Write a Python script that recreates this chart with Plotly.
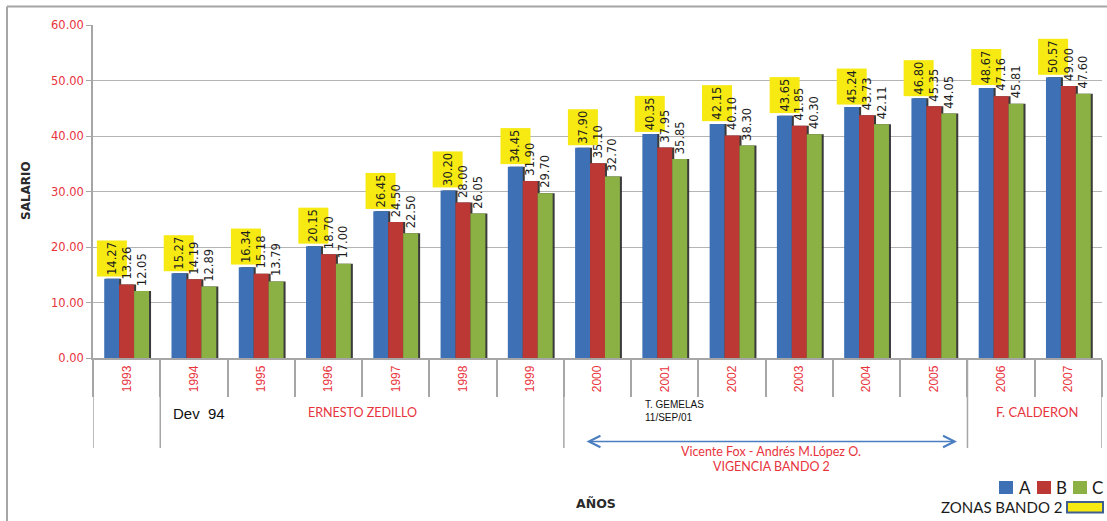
import plotly.graph_objects as go

# ---------------- data ----------------
years = ["1993", "1994", "1995", "1996", "1997", "1998", "1999", "2000",
         "2001", "2002", "2003", "2004", "2005", "2006", "2007"]
zona_a = [14.27, 15.27, 16.34, 20.15, 26.45, 30.20, 34.45, 37.90,
          40.35, 42.15, 43.65, 45.24, 46.80, 48.67, 50.57]
zona_b = [13.26, 14.19, 15.18, 18.70, 24.50, 28.00, 31.90, 35.10,
          37.95, 40.10, 41.85, 43.73, 45.35, 47.16, 49.00]
zona_c = [12.05, 12.89, 13.79, 17.00, 22.50, 26.05, 29.70, 32.70,
          35.85, 38.30, 40.30, 42.11, 44.05, 45.81, 47.60]
y_ticks = [0, 10, 20, 30, 40, 50, 60]
series_names = ["A", "B", "C"]
period_starts = ["1993", "1994", "2000", "2006"]   # long separator lines

# ---------------- layout constants ----------------
W, H = 1107, 521
L, R, T, B = 93, 5, 25, 163
PW, PH = W - L - R, H - T - B
CAT_PX = PW / len(years)

def px(x):
    return (x - L) / PW

def py(y):
    return (H - B - y) / PH

RED_TXT = "#E8333D"
BLUE = "#3D70B4"
RED = "#BC3835"
GREEN = "#8BB044"
GRID = "#B4B4B4"
AXC = "#A6A6A6"
YELLOW = "#F6EA12"

BAR_W = 0.222
offsets = [-0.333, -0.111, 0.111]
colors = [BLUE, RED, GREEN]
values = [zona_a, zona_b, zona_c]

fig = go.Figure()

# shadows
for vals, off in zip(values, offsets):
    fig.add_trace(go.Bar(x=years, y=vals, width=BAR_W, offset=off + 0.03,
                         marker=dict(color="#262626", line=dict(width=0)),
                         opacity=0.9, showlegend=False, hoverinfo="skip"))
# bars
for name, vals, off, col in zip(series_names, values, offsets, colors):
    fig.add_trace(go.Bar(x=years, y=vals, width=BAR_W, offset=off, name=name,
                         marker=dict(color=col, line=dict(width=0)),
                         showlegend=False))

annotations = []
# data labels (x given as category index)
for si, (vals, off) in enumerate(zip(values, offsets)):
    xs = (off + BAR_W / 2) * CAT_PX
    for i, v in enumerate(vals):
        a = dict(x=i, y=v, xref="x", yref="y", text=f"{v:.2f}",
                 showarrow=False, textangle=-90, xanchor="center",
                 yanchor="bottom", xshift=xs, yshift=2,
                 font=dict(family="DejaVu Sans", size=11.5, color="#1e1e1e"))
        if si == 0:
            a.update(bgcolor=YELLOW, width=33, height=27, borderpad=1)
        else:
            a.update(yshift=3)
        annotations.append(a)

def txt(text, x, y, size, color, family="Lato", xanchor="center", bold=False,
        angle=0, align="center"):
    if bold:
        text = f"<b>{text}</b>"
    annotations.append(dict(xref="paper", yref="paper", x=px(x), y=py(y),
                            text=text, showarrow=False, xanchor=xanchor,
                            yanchor="middle", textangle=angle, align=align,
                            font=dict(family=family, size=size, color=color)))

txt("Dev  94", 171, 413, 15, "#111", family="Liberation Sans", xanchor="left")
txt("ERNESTO ZEDILLO", 362, 412, 12.5, RED_TXT)
txt("T. GEMELAS<br>11/SEP/01", 643, 411, 10, "#111",
    family="Liberation Sans Narrow, Liberation Sans", xanchor="left", align="left")
txt("F. CALDERON", 1037, 412, 13, RED_TXT)
txt("Vicente Fox - Andrés M.López O.", 771, 451, 12.5, RED_TXT)
txt("VIGENCIA BANDO 2", 771, 466, 12.5, RED_TXT)
txt("AÑOS", 596, 503, 12.5, "#2a2a2a", family="DejaVu Sans", bold=True)
txt("SALARIO", 26, 191, 12, "#2a2a2a", family="DejaVu Sans", bold=True, angle=-90)

# legend texts
txt("A", 1024.5, 487.5, 17, "#1a1a1a")
txt("B", 1061.5, 487.5, 17, "#1a1a1a")
txt("C", 1097, 487.5, 17, "#1a1a1a")
txt("ZONAS BANDO 2", 1001, 507, 15, "#1a1a1a")

# arrow
annotations.append(dict(xref="paper", yref="paper", x=px(957), y=py(441.5),
                        ax=585 - 957, ay=0, axref="pixel", ayref="pixel",
                        text="", showarrow=True, arrowside="end+start",
                        arrowhead=5, startarrowhead=5, arrowsize=1.5,
                        startarrowsize=1.5, arrowwidth=1.5, arrowcolor="#4A7EC0",
                        standoff=0, startstandoff=0))

shapes = []
# long separator lines
for yr in period_starts:
    xi = years.index(yr) - 0.5
    shapes.append(dict(type="line", xref="x", yref="paper", x0=xi, x1=xi,
                       y0=0, y1=py(448), line=dict(color=AXC, width=1.5)))
xe = len(years) - 0.5
shapes.append(dict(type="line", xref="x", yref="paper", x0=xe, x1=xe,
                   y0=0, y1=py(448), line=dict(color=AXC, width=1.5)))
# outer frame
shapes.append(dict(type="line", xref="paper", yref="paper", x0=px(7), x1=px(7),
                   y0=py(6.5), y1=py(521), line=dict(color=AXC, width=2)))
shapes.append(dict(type="line", xref="paper", yref="paper", x0=px(7), x1=px(1107),
                   y0=py(6.5), y1=py(6.5), line=dict(color=AXC, width=2)))
# legend squares
for x0, col in [(999, BLUE), (1037, RED), (1073, GREEN)]:
    shapes.append(dict(type="rect", xref="paper", yref="paper",
                       x0=px(x0), x1=px(x0 + 14), y0=py(481), y1=py(494),
                       fillcolor=col, line=dict(width=0)))
shapes.append(dict(type="rect", xref="paper", yref="paper",
                   x0=px(1067), x1=px(1103), y0=py(502), y1=py(512.5),
                   fillcolor=YELLOW, line=dict(color="#3F5F8F", width=2)))

fig.update_layout(
    width=W, height=H,
    margin=dict(l=L, r=R, t=T, b=B, pad=0),
    paper_bgcolor="white", plot_bgcolor="white",
    barmode="overlay",
    showlegend=False,
    xaxis=dict(type="category", categoryorder="array", categoryarray=years,
               range=[-0.5, len(years) - 0.5], tickson="boundaries",
               ticks="outside", ticklen=37, tickwidth=1.5, tickcolor=AXC,
               showline=True, linecolor=AXC, linewidth=1.5, showgrid=False,
               tickangle=-90, ticklabelstandoff=1,
               tickfont=dict(family="Liberation Sans", size=12, color=RED_TXT)),
    yaxis=dict(range=[0, 60], tickvals=y_ticks, tickformat=".2f",
               ticks="outside", ticklen=5, tickcolor=AXC, showline=True,
               linecolor=AXC, linewidth=1.5, gridcolor=GRID, gridwidth=1,
               zeroline=False,
               tickfont=dict(family="DejaVu Sans", size=11.5, color=RED_TXT)),
    annotations=annotations,
    shapes=shapes,
)

fig.write_html("out.html")
